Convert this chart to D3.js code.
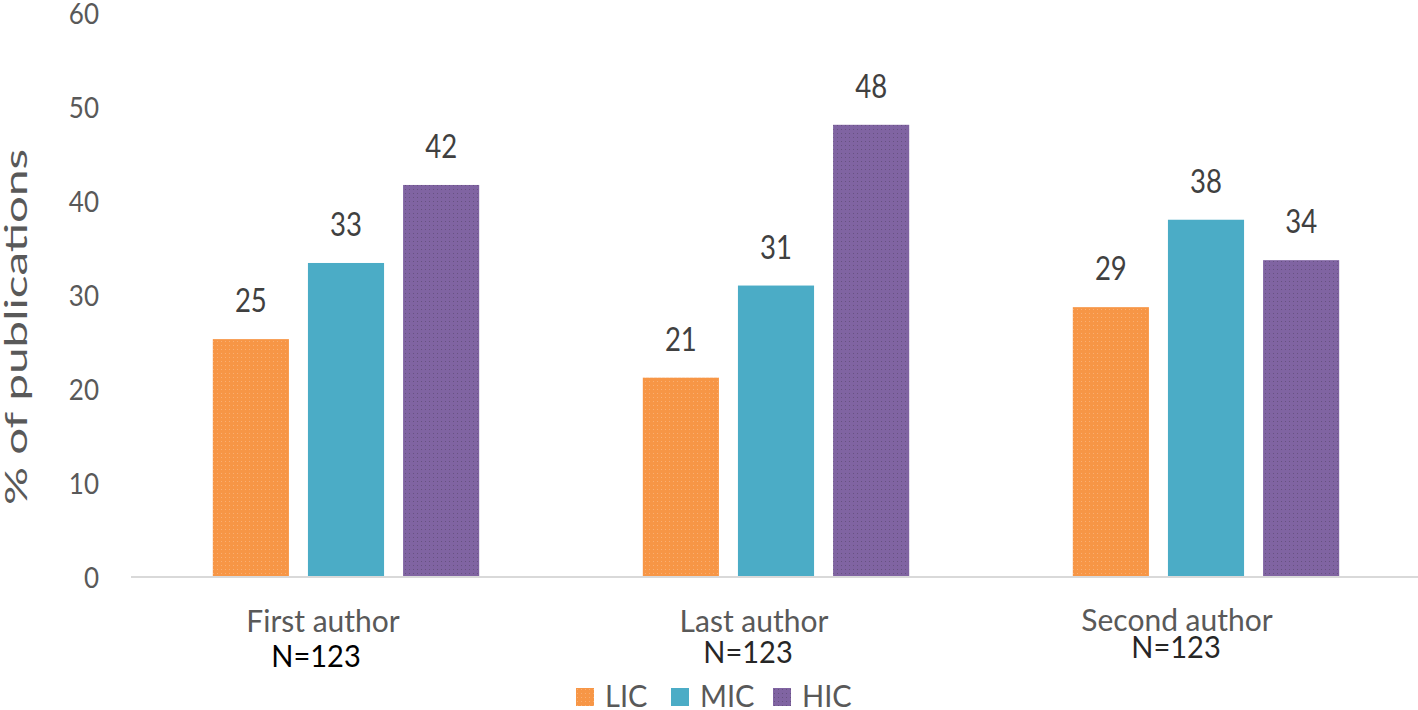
<!DOCTYPE html>
<meta charset="utf-8">
<script src="https://d3js.org/d3.v7.min.js"></script>
<style>
  body { margin: 0; background: #fff; }
  #chart text { font-family: Lato, "Open Sans", sans-serif; }
</style>
<div id="chart"></div>
<script>

// data
var categories = ["First author", "Last author", "Second author"];
var sampleSizes = ["N=123", "N=123", "N=123"];
var seriesNames = ["LIC", "MIC", "HIC"];
var lic = [25.2, 21.1, 28.6];
var mic = [33.3, 30.9, 37.9];
var hic = [41.6, 48.0, 33.6];
var yTicks = [0, 10, 20, 30, 40, 50, 60];

var colors = ["#f79646", "#4bacc6", "#8064a2"];

var W = 1418, H = 710;

var svg = d3.select("#chart").append("svg")
    .attr("width", W)
    .attr("height", H);

// dotted textures like the original
var defs = svg.append("defs");
var dotColor = ["#fbb985", null, "#5d4a73"];
colors.forEach(function(c, i) {
  var p = defs.append("pattern")
      .attr("id", "pat" + i)
      .attr("width", 4).attr("height", 4)
      .attr("patternUnits", "userSpaceOnUse");
  p.append("rect").attr("width", 4).attr("height", 4).attr("fill", c);
  if (dotColor[i]) {
    p.append("rect").attr("x", 1).attr("y", 1).attr("width", 1).attr("height", 1)
      .attr("fill", dotColor[i]).attr("opacity", 0.7);
  }
});

var x = d3.scaleBand()
    .domain(categories)
    .range([131, 1421]);

var x1 = d3.scaleBand()
    .domain(seriesNames)
    .range([0, x.bandwidth()])
    .paddingInner(0.2)
    .paddingOuter(0.86);

var y = d3.scaleLinear()
    .domain([0, 60])
    .range([576, 12]);

// the original text looks a bit taller than wide, so stretch it a little
function stretched(sel, k) {
  sel.attr("transform", function() {
    return "translate(" + this.__px + "," + this.__py + ") scale(1," + k + ")";
  });
}

// y tick labels (no axis line in the original)
svg.append("g").selectAll("text")
    .data(yTicks)
    .join("text")
      .each(function(d) { this.__px = 99; this.__py = y(d) + 2; })
      .call(stretched, 1.12)
      .attr("dy", "0.36em")
      .attr("text-anchor", "end")
      .attr("fill", "#595959")
      .style("font-size", "26px")
      .text(function(d) { return d; });

// y title (stretched along its length in the original)
svg.append("text")
    .attr("transform", "translate(27,327) rotate(-90)")
    .attr("text-anchor", "middle")
    .attr("fill", "#595959")
    .style("font-size", "31px")
    .attr("textLength", 356)
    .attr("lengthAdjust", "spacingAndGlyphs")
    .text("% of publications");

var rows = seriesNames.map(function(s, i) {
  var vals = [lic, mic, hic][i];
  return categories.map(function(c, j) {
    return {series: s, cat: c, value: vals[j], idx: i};
  });
});

var groups = svg.append("g").selectAll("g")
    .data(rows)
    .join("g");

groups.selectAll("rect")
    .data(function(d) { return d; })
    .join("rect")
      .attr("x", function(d) { return x(d.cat) + x1(d.series); })
      .attr("y", function(d) { return y(d.value); })
      .attr("width", x1.bandwidth())
      .attr("height", function(d) { return y(0) - y(d.value); })
      .attr("fill", function(d) { return "url(#pat" + d.idx + ")"; });

// value labels
groups.selectAll("text")
    .data(function(d) { return d; })
    .join("text")
      .each(function(d) {
        this.__px = x(d.cat) + x1(d.series) + x1.bandwidth() / 2;
        this.__py = y(d.value) - 27;
      })
      .call(stretched, 1.16)
      .attr("text-anchor", "middle")
      .attr("fill", "#404040")
      .style("font-size", "27.5px")
      .text(function(d) { return Math.round(d.value); });

// baseline
svg.append("line")
    .attr("x1", 131).attr("x2", W)
    .attr("y1", y(0) + 1).attr("y2", y(0) + 1)
    .attr("stroke", "#d9d9d9")
    .attr("stroke-width", 2);

// category labels, sit a little left of the band centre in the original
var catShift = [-23, -22, -29];
svg.append("g").selectAll("text")
    .data(categories)
    .join("text")
      .attr("x", function(d, i) { return x(d) + x.bandwidth() / 2 + catShift[i]; })
      .attr("y", function(d, i) { return i === 2 ? 631 : 632; })
      .attr("text-anchor", "middle")
      .attr("fill", "#595959")
      .style("font-size", "30px")
      .text(function(d) { return d; });

// N labels under categories (hand placed in the original, not quite aligned)
var nShift = [-30, -28, -30];
var nBase = [667, 663, 658];
svg.append("g").selectAll("text")
    .data(sampleSizes)
    .join("text")
      .each(function(d, i) {
        this.__px = x(categories[i]) + x.bandwidth() / 2 + nShift[i];
        this.__py = nBase[i];
      })
      .call(stretched, 1.08)
      .attr("text-anchor", "middle")
      .attr("fill", function(d, i) { return i === 0 ? "#000" : "#262626"; })
      .style("font-size", "29px")
      .text(function(d) { return d; });

// legend
var legendX = [576, 671, 773];
var legend = svg.append("g").selectAll("g")
    .data(seriesNames)
    .join("g")
      .attr("transform", function(d, i) { return "translate(" + legendX[i] + ",688)"; });
legend.append("rect")
    .attr("width", 18).attr("height", 18)
    .attr("fill", function(d, i) { return "url(#pat" + i + ")"; });
legend.append("text")
    .each(function() { this.__px = 29; this.__py = 19; })
    .call(stretched, 1.05)
    .attr("fill", "#595959")
    .style("font-size", "29px")
    .text(function(d) { return d; });

</script>
